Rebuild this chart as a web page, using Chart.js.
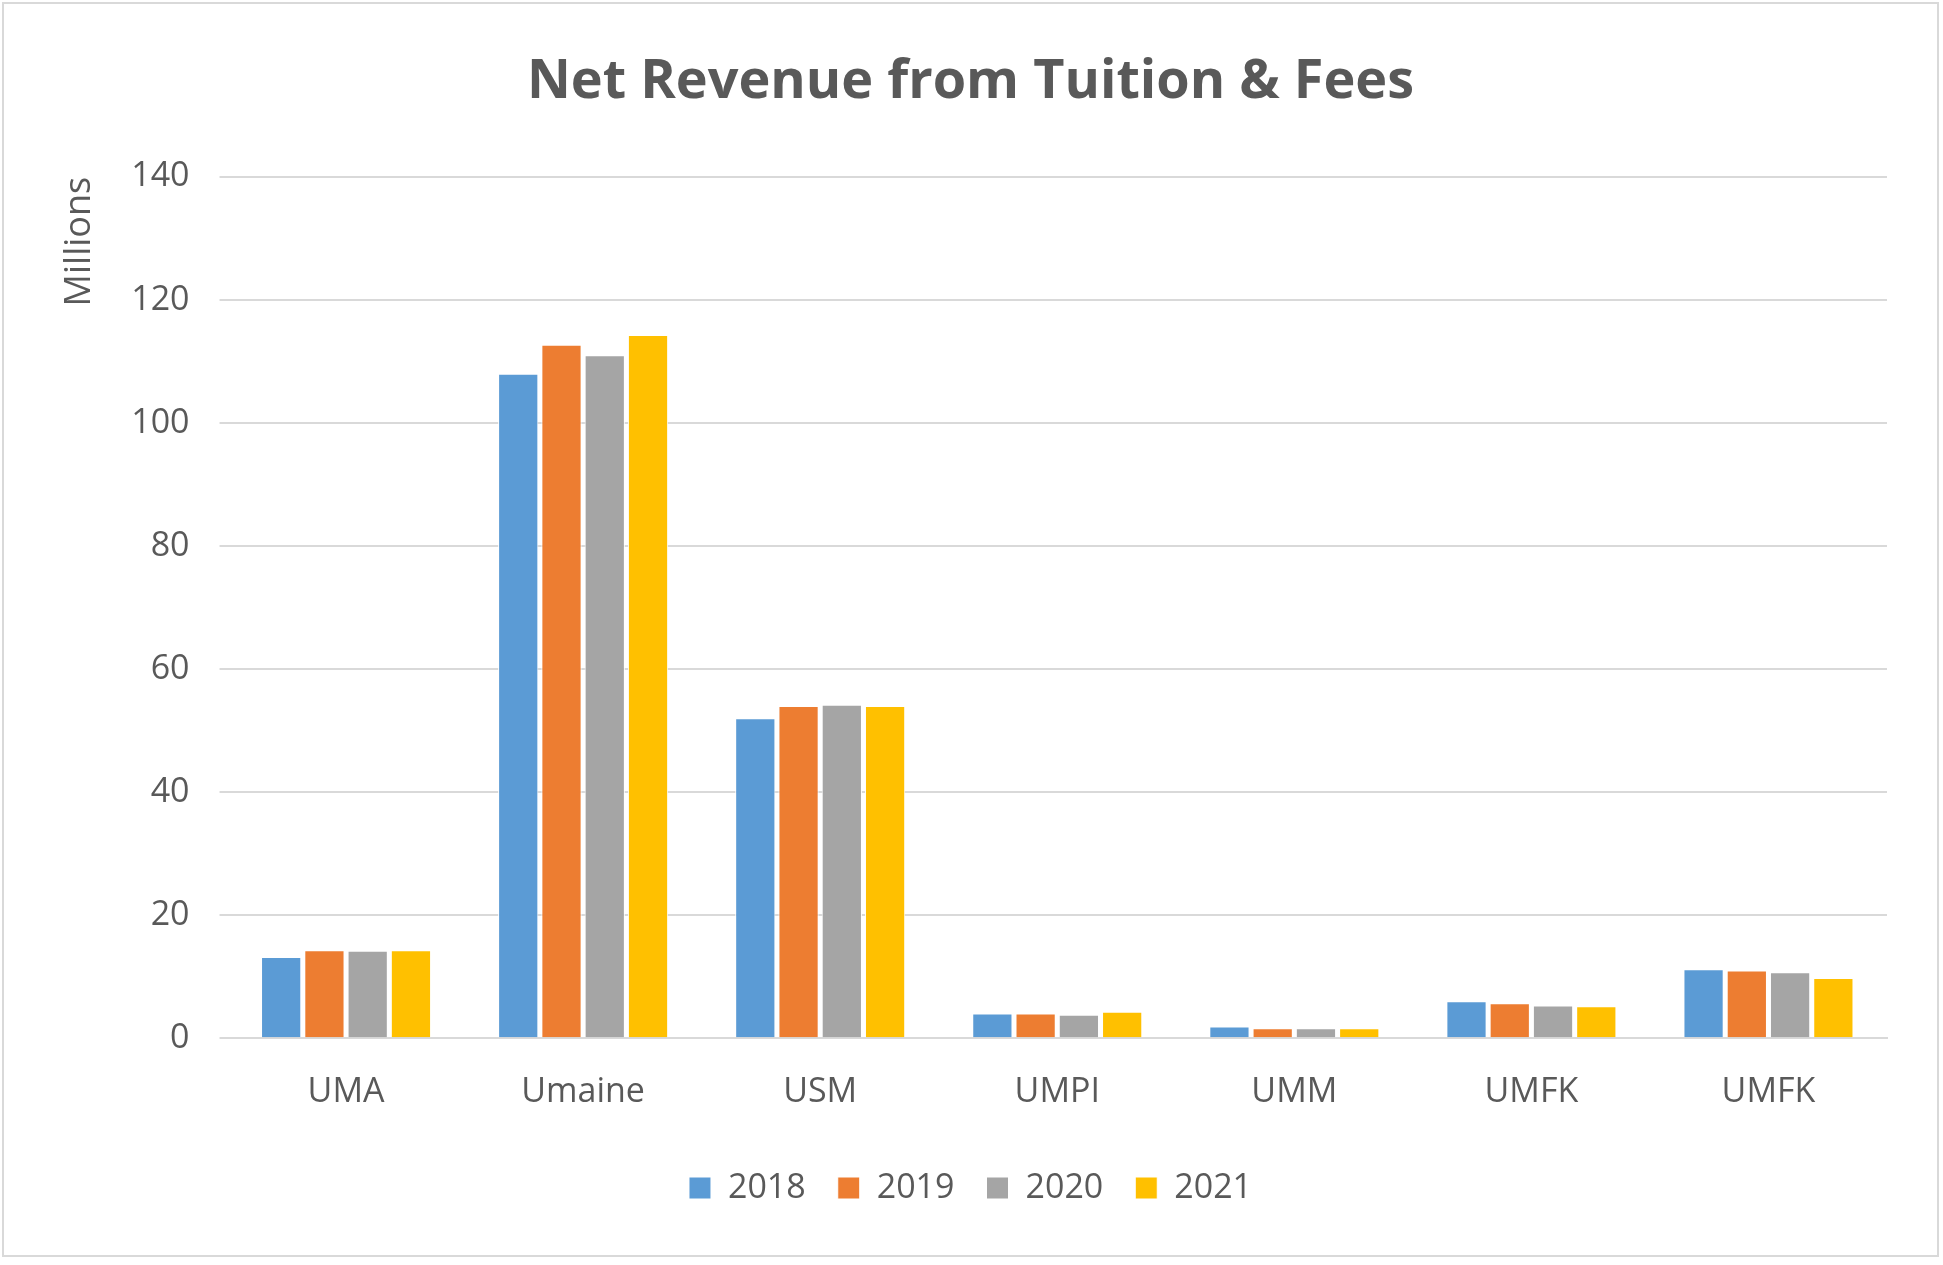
<!DOCTYPE html>
<html>
<head>
<meta charset="utf-8">
<script src="https://cdn.jsdelivr.net/npm/chart.js@4"></script>
<style>
  html, body { margin: 0; padding: 0; background: #fff; }
  #wrap { position: absolute; left: 2px; top: 2px; width: 1937px; height: 1255px; border: 2px solid #d9d9d9; box-sizing: border-box; }
</style>
</head>
<body>
<div id="wrap"><canvas id="chart"></canvas></div>
<script>
const campuses = ['UMA', 'Umaine', 'USM', 'UMPI', 'UMM', 'UMFK', 'UMFK'];
const years = ['2018', '2019', '2020', '2021'];
const v2018 = [13.2, 108, 52, 4.0, 1.9, 6.0, 11.2];
const v2019 = [14.3, 112.7, 54, 4.0, 1.6, 5.7, 11.0];
const v2020 = [14.2, 111, 54.2, 3.8, 1.6, 5.3, 10.7];
const v2021 = [14.3, 114.3, 54, 4.3, 1.6, 5.2, 9.8];
const yTicks = [0, 20, 40, 60, 80, 100, 120, 140];
const colors = ['#5b9bd5', '#ed7d31', '#a5a5a5', '#ffc000'];

const series = [v2018, v2019, v2020, v2021];
const ctx = document.getElementById('chart');
new Chart(ctx, {
    type: 'bar',
    data: {
        labels: campuses,
        datasets: series.map(function(vals, i) {
            return {
                label: years[i],
                data: vals,
                backgroundColor: colors[i],
                borderColor: '#ffffff',
                borderWidth: 1,
                categoryPercentage: 0.73,
                barPercentage: 0.93
            };
        })
    },
    options: {
        responsive: true,
        maintainAspectRatio: false,
        animation: false,
        layout: { padding: { left: 50, right: 50, top: 36, bottom: 40 } },
        plugins: {
            title: {
                display: true,
                text: 'Net Revenue from Tuition & Fees',
                color: '#595959',
                font: { family: 'Open Sans', size: 54, weight: 'bold' },
                padding: { top: 10, bottom: 62 }
            },
            legend: {
                position: 'bottom',
                labels: {
                    color: '#595959',
                    font: { family: 'Open Sans', size: 34 },
                    boxWidth: 22, boxHeight: 22, padding: 32
                }
            },
            tooltip: { enabled: false }
        },
        scales: {
            x: {
                grid: { display: false },
                border: { color: '#d9d9d9', width: 2 },
                ticks: { color: '#595959', font: { family: 'Open Sans', size: 34 }, padding: 26 }
            },
            y: {
                min: 0, max: 140,
                afterBuildTicks: function(axis) { axis.ticks = yTicks.map(function(v) { return { value: v }; }); },
                grid: { color: '#d9d9d9', lineWidth: 2 },
                border: { display: false },
                ticks: { color: '#595959', font: { family: 'Open Sans', size: 34 }, padding: 30 },
                title: {
                    display: true, text: 'Millions', color: '#595959', align: 'end',
                    font: { family: 'Open Sans', size: 36 }, padding: { bottom: 0 }
                }
            }
        }
    }
});
</script>
</body>
</html>
